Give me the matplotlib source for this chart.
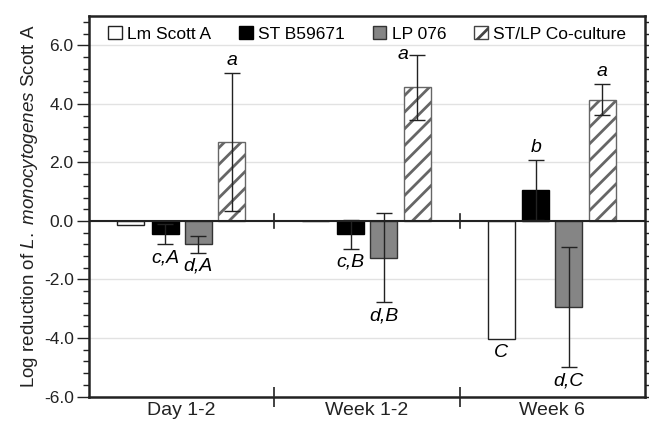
import numpy as np
import matplotlib
matplotlib.use("Agg")
import matplotlib.pyplot as plt
from matplotlib.patches import Patch
from matplotlib.ticker import MultipleLocator, FixedLocator

plt.rcParams['font.family'] = ['Liberation Sans', 'DejaVu Sans']
plt.rcParams['mathtext.fontset'] = 'custom'
plt.rcParams['mathtext.it'] = 'Liberation Sans:italic'
plt.rcParams['mathtext.rm'] = 'Liberation Sans'
plt.rcParams['hatch.color'] = '#a0a0a0'
plt.rcParams['hatch.linewidth'] = 2.0

groups = ["Day 1-2", "Week 1-2", "Week 6"]
series = ["Lm Scott A", "ST B59671", "LP 076", "ST/LP Co-culture"]
values = {
    "Lm Scott A":       [-0.15, 0.0, -4.03],
    "ST B59671":        [-0.46, -0.46, 1.05],
    "LP 076":           [-0.80, -1.26, -2.95],
    "ST/LP Co-culture": [2.69, 4.57, 4.14],
}
errors = {
    "Lm Scott A":       [np.nan, np.nan, np.nan],
    "ST B59671":        [0.34, 0.50, 1.03],
    "LP 076":           [0.30, 1.52, 2.05],
    "ST/LP Co-culture": [2.35, 1.11, 0.53],
}
letters = {
    "Lm Scott A":       ["", "", "C"],
    "ST B59671":        ["c,A", "c,B", "b"],
    "LP 076":           ["d,A", "d,B", "d,C"],
    "ST/LP Co-culture": ["a", "a", "a"],
}
letter_side = {
    "Lm Scott A":       ["", "", "barbottom"],
    "ST B59671":        ["below", "below", "above"],
    "LP 076":           ["below", "below", "below"],
    "ST/LP Co-culture": ["above", "left", "above"],
}

face = {"Lm Scott A": "white", "ST B59671": "black", "LP 076": "#858585", "ST/LP Co-culture": "white"}
hatch = {"Lm Scott A": None, "ST B59671": None, "LP 076": None, "ST/LP Co-culture": "//"}
edge = {"Lm Scott A": "#222222", "ST B59671": "black", "LP 076": "#333333", "ST/LP Co-culture": "#666666"}

offsets = [-0.276, -0.089, 0.089, 0.27]
width = 0.145
lfs = 14

fig = plt.figure(figsize=(6.49, 4.25), dpi=100)
ax = fig.add_axes([0.137, 0.067, 0.857, 0.895])

centers = np.arange(len(groups)) + 0.5
for i, s in enumerate(series):
    x = centers + offsets[i]
    v = np.array(values[s])
    ax.bar(x, v, width=width, color=face[s], edgecolor=edge[s], hatch=hatch[s],
           linewidth=1.0, zorder=3)
    e = np.array(errors[s])
    m = ~np.isnan(e)
    if m.any():
        ax.errorbar(x[m], v[m], yerr=e[m], fmt='none', ecolor='#222222',
                    elinewidth=1.0, capsize=6, capthick=1.0, zorder=4)
    for j in range(len(groups)):
        lab = letters[s][j]
        if not lab:
            continue
        side = letter_side[s][j]
        err = 0 if np.isnan(e[j]) else e[j]
        if side == "above":
            y = v[j] + err
            ax.annotate(lab, (x[j], y), xytext=(0, 9.0), textcoords='offset points',
                        ha='center', va='center', fontsize=lfs, style='italic')
        elif side == "below":
            y = v[j] - err
            ax.annotate(lab, (x[j], y), xytext=(0, -9.6), textcoords='offset points',
                        ha='center', va='center', fontsize=lfs, style='italic')
        elif side == "barbottom":
            ax.annotate(lab, (x[j], v[j]), xytext=(0, -9.6), textcoords='offset points',
                        ha='center', va='center', fontsize=lfs, style='italic')
        elif side == "left":
            y = v[j] + err
            ax.annotate(lab, (x[j], y), xytext=(-6.0, 0), textcoords='offset points',
                        ha='right', va='center', fontsize=lfs, style='italic')

ax.set_xlim(0, 3)
ax.set_ylim(-6, 7)
ax.axhline(0, color='#222222', lw=1.5, zorder=5)
for xs in [1, 2]:
    ax.plot([xs, xs], [-0.25, 0.25], color='#222222', lw=1.2, zorder=5)

ax.yaxis.set_major_locator(FixedLocator([-6, -4, -2, 0, 2, 4, 6]))
ax.yaxis.set_minor_locator(MultipleLocator(0.4))
ax.set_yticklabels(["-6.0", "-4.0", "-2.0", "0.0", "2.0", "4.0", "6.0"])
ax.grid(axis='y', which='major', color='#e2e2e2', lw=1.0, zorder=0)
ax.tick_params(axis='y', which='major', direction='out', length=9, width=1.0,
               labelsize=12.5, pad=2, right=True, colors='#222222')
ax.tick_params(axis='y', which='minor', direction='out', length=4.5, width=1.0,
               right=True, colors='#222222')
ax.tick_params(axis='y', labelcolor='#222222')

ax.xaxis.set_major_locator(FixedLocator([1, 2]))
ax.xaxis.set_minor_locator(FixedLocator(centers))
ax.set_xticklabels([], minor=False)
ax.set_xticklabels(groups, minor=True)
ax.tick_params(axis='x', which='major', direction='inout', length=14, width=1.2, colors='#222222')
ax.tick_params(axis='x', which='minor', length=0, labelsize=14, pad=4, labelcolor='#222222')

for sp in ax.spines.values():
    sp.set_linewidth(1.8)
    sp.set_color('#222222')

ax.set_ylabel(r"Log reduction of $\it{L.\ monocytogenes}$ Scott A", fontsize=13.5,
              labelpad=3, color='#222222')

handles = [Patch(facecolor=face[s], edgecolor=edge[s] if s != "ST/LP Co-culture" else '#444444',
                 hatch=hatch[s], linewidth=1.0) for s in series]
ax.legend(handles, series, loc='center', bbox_to_anchor=(0.5, 0.953), ncol=4, frameon=False,
          fontsize=12.5, handlelength=0.8, handleheight=0.8, handletextpad=0.3,
          columnspacing=1.6, borderaxespad=0)

fig.savefig("out.png", dpi=100)
